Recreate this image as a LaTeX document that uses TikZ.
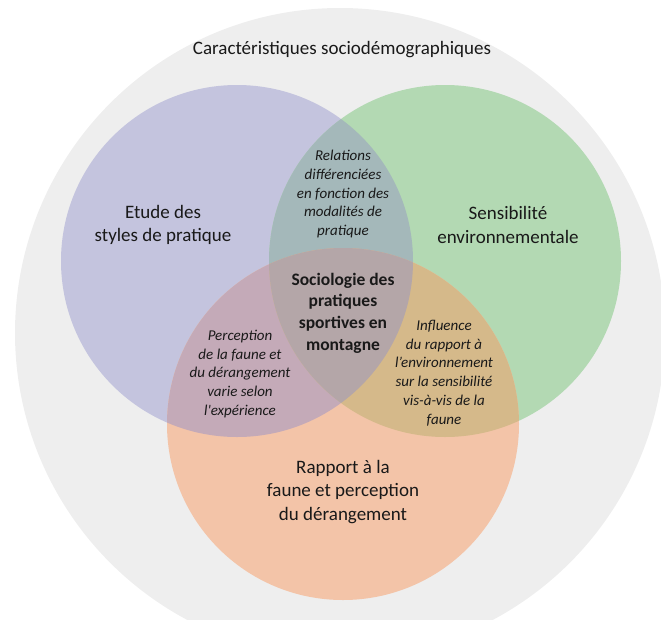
\documentclass[tikz,border=0pt]{standalone}
\usepackage{fontspec}
\setmainfont{Carlito}
\definecolor{grayback}{HTML}{EEEEEE}
\definecolor{purplefill}{HTML}{C4C4DE}
\definecolor{greenfill}{HTML}{B3D9B3}
\definecolor{orangefill}{HTML}{F3C4A8}
\definecolor{pgfill}{HTML}{A4B8BA}
\definecolor{pofill}{HTML}{C4AAB8}
\definecolor{gofill}{HTML}{D5B98A}
\definecolor{allfill}{HTML}{B4A6A8}
\tikzset{
  mainlabel/.style={align=center, inner sep=0pt, text=black!90, font=\fontsize{19}{23.5}\selectfont},
  smalllabel/.style={align=center, inner sep=0pt, text=black!90, font=\fontsize{15}{18.8}\selectfont\itshape},
  corelabel/.style={align=center, inner sep=0pt, text=black!90, font=\fontsize{17.5}{21.7}\selectfont\bfseries}
}
\begin{document}
\begin{tikzpicture}[x=1pt,y=-1pt]
    \useasboundingbox (0,0) rectangle (661,619);
    % centres of the circles
    \coordinate (S) at (340,333);
    \coordinate (P) at (237,261);
    \coordinate (V) at (445,261);
    \coordinate (O) at (343,424);
    \def\rad{176pt}
    \def\circleP{(P) circle (\rad)}
    \def\circleV{(V) circle (\rad)}
    \def\circleO{(O) circle (\rad)}
    % outer ring
    \fill[grayback] (S) circle (325pt);
    % the three sets
    \fill[purplefill] \circleP;
    \fill[greenfill] \circleV;
    \fill[orangefill] \circleO;
    % pairwise overlaps
    \begin{scope}
      \clip \circleP;
      \fill[pgfill] \circleV;
      \fill[pofill] \circleO;
    \end{scope}
    \begin{scope}
      \clip \circleV;
      \fill[gofill] \circleO;
    \end{scope}
    % centre of all three
    \begin{scope}
      \clip \circleP;
      \clip \circleV;
      \fill[allfill] \circleO;
    \end{scope}

    \node[mainlabel] (title) at (342,50) {Caractéristiques sociodémographiques};
    \node[mainlabel] (styles) at (163,225) {Etude des\\styles de pratique};
    \node[mainlabel] (sensib) at (508,225) {Sensibilité\\environnementale};
    \node[mainlabel] (faune) at (343,492) {Rapport à la\\faune et perception\\du dérangement};
    \node[smalllabel] (relations) at (343,194) {Relations\\différenciées\\en fonction des\\modalités de\\pratique};
    \node[smalllabel] (perception) at (240,374) {Perception\\de la faune et\\du dérangement\\varie selon\\l\textquotesingle expérience};
    \node[smalllabel] (influence) at (444,373) {Influence\\du rapport à\\l’environnement\\sur la sensibilité\\vis-à-vis de la\\faune};
    \node[corelabel] (socio) at (343,313) {Sociologie des\\pratiques\\sportives en\\montagne};
\end{tikzpicture}
\end{document}
